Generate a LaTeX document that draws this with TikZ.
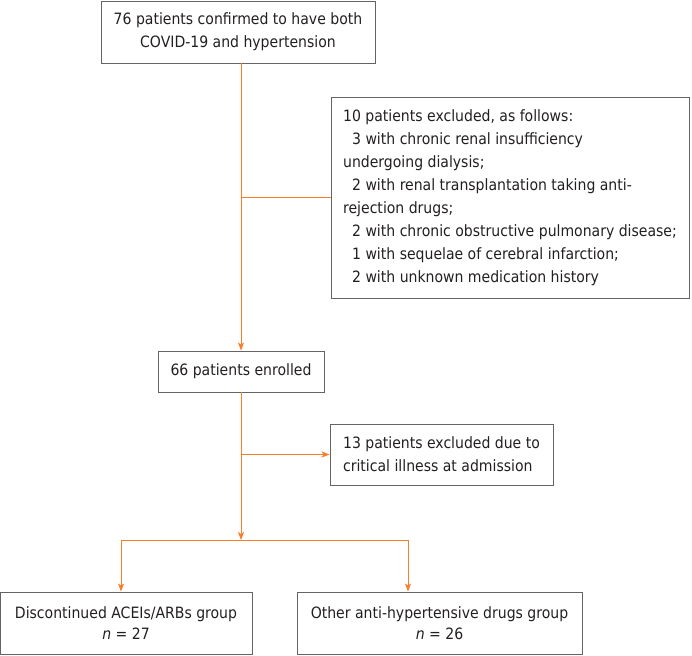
\documentclass[tikz,border=0pt]{standalone}
\usepackage{fontspec}
\setmainfont{DejaVu Sans Condensed}
\usetikzlibrary{arrows.meta}
\definecolor{lineor}{RGB}{250,125,40}
\definecolor{boxgr}{RGB}{100,100,100}
\definecolor{txt}{RGB}{35,31,32}
\begin{document}
\begin{tikzpicture}[x=1pt,y=-1pt,
  box/.style={draw=boxgr, line width=0.9pt, text=txt, inner sep=0pt,
    font=\fontsize{15.6}{23}\selectfont, align=center},
  conn/.style={draw=lineor, line width=0.9pt},
  arr/.style={conn, -{Stealth[length=8pt,width=6pt,inset=2pt]}}]
\useasboundingbox (0,0) rectangle (692,655);
\node[box, minimum width=274pt, minimum height=62pt] (top) at (238,32)
  {76 patients confirmed to have both\\COVID-19 and hypertension};
\node[box, minimum width=358pt, minimum height=201pt, align=left] (excl) at (510,197.5)
  {10 patients excluded, as follows:\\
   \hspace*{9pt}3 with chronic renal insufficiency\\
   undergoing dialysis;\\
   \hspace*{9pt}2 with renal transplantation taking anti-\\
   rejection drugs;\\
   \hspace*{9pt}2 with chronic obstructive pulmonary disease;\\
   \hspace*{9pt}1 with sequelae of cerebral infarction;\\
   \hspace*{9pt}2 with unknown medication history};
\node[box, minimum width=166pt, minimum height=41pt] (enr) at (241,371.5)
  {66 patients enrolled};
\node[box, minimum width=223pt, minimum height=61pt, align=left] (crit) at (441.5,454.5)
  {13 patients excluded due to\\critical illness at admission};
\node[box, minimum width=252pt, minimum height=62pt, font=\fontsize{15.6}{21}\selectfont] (lgrp) at (126,623)
  {Discontinued ACEIs/ARBs group\\\textit{n} = 27};
\node[box, minimum width=285pt, minimum height=62pt, font=\fontsize{15.6}{21}\selectfont] (rgrp) at (439.5,623)
  {Other anti-hypertensive drugs group\\\textit{n} = 26};
\coordinate (split) at (241,540);
\draw[arr] (enr.north |- top.south) -- (enr.north);
\draw[conn] (enr.north |- excl.west) -- (excl.west);
\draw[arr] (enr.south |- crit.west) -- (crit.west);
\draw[arr] (enr.south) -- (split);
\draw[arr] (split) -| ([xshift=-5pt]lgrp.north);
\draw[arr] (split) -| ([xshift=-31.5pt]rgrp.north);
\end{tikzpicture}
\end{document}
